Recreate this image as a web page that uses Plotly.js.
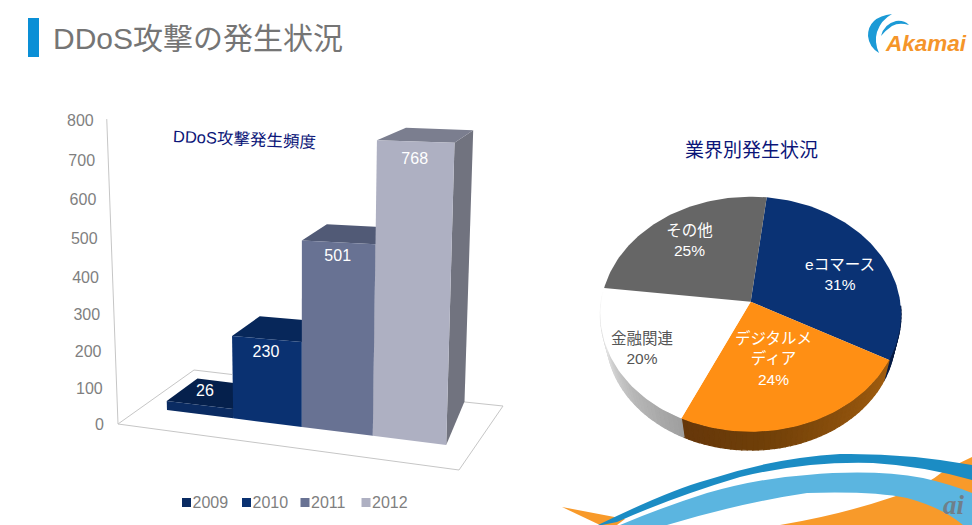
<!DOCTYPE html>
<html><head><meta charset="utf-8">
<script src="https://cdn.plot.ly/plotly-3.0.1.min.js"></script>
<style>html,body{margin:0;padding:0;background:#fff;overflow:hidden}#c{width:972px;height:525px}</style>
</head><body><div id="c"></div>
<script>
// ---- data ----
const years = ['2009','2010','2011','2012'];
const attacks = [26,230,501,768];
const yTicks = [0,100,200,300,400,500,600,700,800];
const pieLabels = ['eコマース','デジタルメ<br>ディア','金融関連','その他'];
const pieShares = [31,24,20,25];

// ---- styles ----
const SANS = '"Liberation Sans","Noto Sans CJK JP",sans-serif';
const frontCol = ['#0a2b62','#0a3171','#687293','#aeb0c2'];
const topCol   = ['#05204c','#07275a','#515a76','#7b7e8f'];
const sideCol  = ['#05204c','#07275a','#515a76','#71737f'];
const swatchCol= ['#0a2b62','#0a3171','#687293','#aeb0c2'];
const sliceCol = ['#0a3274','#ff8f14','#ffffff','#666666'];

// ---- projection of the tilted bar scene onto the page ----
const depthDx = [30.7,27.7,25,29,18.7];
const frontX = u => 167 + 65*u + 1.2*u*u;
const frontY = u => 410 + (frontX(u)-167)*0.1257;
const unitH  = (u,v) => 0.342 + 0.0142*u - 0.0008*u*u + 1e-5*v;
function front(u,v){ const X=frontX(u); return [X + 7.4e-5*v*(X-300), frontY(u) - v*unitH(u,v)]; }
function back(u,v){ const p=front(u,v); return [p[0]+depthDx[u], p[1] + (-23 + 0.0137*v)]; }
const tickY = v => 424 - 0.3575*v - 2.8e-5*v*v;
const tickX = v => 104 - 0.0128*v;

// ---- projection of the tilted pie ----
const PC = {x:750.7, y:301.7, A:149.5, B:116.2, p:0.1064, start:6.8, scale:0.96, drop:23.5};
function rim(deg, low){
  const t = deg*Math.PI/180, den = 1 + PC.p*Math.cos(t), s = low ? PC.scale : 1;
  return [PC.x + s*PC.A*Math.sin(t)/den, PC.y - s*PC.B*Math.cos(t)/den + (low?PC.drop:0)];
}
function mix(a,b,f){
  const h=c=>[1,3,5].map(i=>parseInt(c.substr(i,2),16));
  const A=h(a),B=h(b);
  return 'rgb('+A.map((x,i)=>Math.round(x+(B[i]-x)*f)).join(',')+')';
}
function poly(pts,color,line){
  return {type:'scatter',mode:'lines',x:pts.map(p=>p[0]),y:pts.map(p=>p[1]),fill:'toself',fillcolor:color,
          line:{width:line?1.2:0,color:color},hoverinfo:'skip',showlegend:false};
}

const traces = [];

// axis wall + floor outline
const wallTop = [tickX(800)+13, tickY(800)-1], origin=[118,tickY(0)];
traces.push({type:'scatter',mode:'lines',x:[wallTop[0],origin[0],459,503],y:[wallTop[1],origin[1],470,406],
  line:{color:'#c6c6c6',width:1},hoverinfo:'skip',showlegend:false});
traces.push({type:'scatter',mode:'lines',x:[origin[0],194,232],y:[origin[1],370,374.5],
  line:{color:'#c6c6c6',width:1},hoverinfo:'skip',showlegend:false});
traces.push({type:'scatter',mode:'lines',x:[460,503],y:[401.5,406],
  line:{color:'#c6c6c6',width:1},hoverinfo:'skip',showlegend:false});

// bars, back to front from the left
attacks.forEach((v,i)=>{
  const u0=i,u1=i+1;
  const fb0=[frontX(u0),frontY(u0)], fb1=[frontX(u1),frontY(u1)];
  const ft0=front(u0,v), ft1=front(u1,v), bt0=back(u0,v), bt1=back(u1,v);
  const bb1=[fb1[0]+18.3, fb1[1]-43.6];
  traces.push(poly([ft1,bt1,bb1,fb1,ft1],sideCol[i]));
  traces.push(poly([ft0,bt0,bt1,ft1,ft0],topCol[i]));
  traces.push(poly([fb0,ft0,ft1,fb1,fb0],frontCol[i]));
});

// tick labels
const textDrop = 2;
traces.push({type:'scatter',mode:'text',x:yTicks.map(tickX),y:yTicks.map(v=>tickY(v)+textDrop),text:yTicks.map(String),
  textposition:'middle left',textfont:{family:SANS,size:16,color:'#7f7f7f'},hoverinfo:'skip',showlegend:false});

// bar value labels
const labelNudge=[-13,14,15,19];
const labelShift=[5,-1,-1,-1];
traces.push({type:'scatter',mode:'text',
  x:attacks.map((v,i)=>(front(i,v)[0]+front(i+1,v)[0])/2+labelShift[i]),
  y:attacks.map((v,i)=>(front(i,v)[1]+front(i+1,v)[1])/2+labelNudge[i]),
  text:attacks.map(String),textposition:'middle center',
  textfont:{family:SANS,size:16,color:'#ffffff'},hoverinfo:'skip',showlegend:false});

// legend
const legX=[186.5,246.5,305,366];
traces.push({type:'scatter',mode:'markers',x:legX,y:years.map(()=>502.5),
  marker:{symbol:'square',size:9,color:swatchCol},hoverinfo:'skip',showlegend:false});
traces.push({type:'scatter',mode:'text',x:legX.map(x=>x+6),y:years.map(()=>503.5),text:years,textposition:'middle right',
  textfont:{family:SANS,size:16,color:'#7f7f7f'},hoverinfo:'skip',showlegend:false});

// pie: shares -> angles
const bounds=[PC.start];
pieShares.forEach(s=>bounds.push(bounds[bounds.length-1]+s*3.6));

// pie side wall, shaded by angle
function wall(a0,a1,stops){
  const n=Math.max(2,Math.ceil((a1-a0)/2));
  for(let k=0;k<n;k++){
    const a=a0+(a1-a0)*k/n, b=a0+(a1-a0)*(k+1)/n, f=(k+0.5)/n*(stops.length-1);
    const j=Math.min(stops.length-2,Math.floor(f));
    traces.push(poly([rim(a),rim(b),rim(b,true),rim(a,true),rim(a)],mix(stops[j],stops[j+1],f-j),true));
  }
}
wall(92,bounds[1],['#071c45','#071c45']);
wall(bounds[1],bounds[2],['#a05d10','#8a4f0c','#6f3f08','#66370a']);
wall(bounds[2],bounds[3],['#9f9f9f','#b8b8b8','#dcdcdc','#ffffff']);

// pie top
pieShares.forEach((s,i)=>{
  const a0=bounds[i],a1=bounds[i+1],pts=[[PC.x,PC.y]];
  for(let a=a0;a<a1;a+=1.5)pts.push(rim(a));
  pts.push(rim(a1));pts.push([PC.x,PC.y]);
  traces.push(poly(pts,sliceCol[i]));
});

// pie labels
const pieLabX=[840,773.5,642,689.5], pieLabY=[276.5,360.5,350.5,242.5];
const pieLabCol=['#ffffff','#ffffff','#555555','#ffffff'];
traces.push({type:'scatter',mode:'text',x:pieLabX,y:pieLabY,
  text:pieLabels.map((l,i)=>l+'<br>'+pieShares[i]+'%'),textposition:'middle center',
  textfont:{family:SANS,size:15.5,color:pieLabCol},hoverinfo:'skip',showlegend:false});

// decoration
const P=(path,fill)=>({type:'path',xref:'x',yref:'y',path,fillcolor:fill,line:{width:0},layer:'below'});
const shapes=[
  {type:'rect',xref:'x',yref:'y',x0:28,x1:39,y0:18,y1:57,fillcolor:'#0a8fd6',line:{width:0}},
  // swooshes
  P('M562 507 L625 519 L617 525 L600 525 Z','#f89a2a'),
  P('M780 525 Q840 515 893 497 Q925 487 945 470 L972 457 L972 525 Z','#f89a2a'),
  P('M598 525 Q670 490 707 480 Q773 458 840 454 Q907 453 972 465 L972 480 Q923 466 873 463 Q807 461 740 477 Q673 497 617 522 L602 525 Z','#1b8cc4'),
  P('M620 525 Q660 508 707 493 Q760 478 807 475 Q873 469 923 478 Q950 484 972 493 L972 525 L963 525 Q943 508 907 498 Q873 491 807 493 Q740 503 667 525 Z','#5bb5e0'),
  // logo swirl
  P('M892 14 Q868 17 868 36 Q869 47 879 53 Q874 42 877 32 Q881 20 892 14 Z','#1b9ad6'),
  P('M881 36 Q884 24 896 21 Q904 20 909 25 Q899 22 892 26 Q886 30 881 36 Z','#1b9ad6')
];

const annotations=[
  {x:51,y:38,xref:'x',yref:'y',xanchor:'left',yanchor:'middle',showarrow:false,text:'DDoS攻撃の発生状況',
    font:{family:SANS,size:30,color:'#757575'}},
  {x:244.5,y:139,xref:'x',yref:'y',xanchor:'center',yanchor:'middle',showarrow:false,text:'DDoS攻撃発生頻度',textangle:2.5,
    font:{family:SANS,size:16.5,color:'#0b1578'}},
  {x:751,y:150,xref:'x',yref:'y',xanchor:'center',yanchor:'middle',showarrow:false,text:'業界別発生状況',
    font:{family:SANS,size:19,color:'#0b1578'}},
  {x:969,y:43,xref:'x',yref:'y',xanchor:'right',yanchor:'middle',showarrow:false,text:'<b><i>Akamai</i></b>',
    font:{family:SANS,size:22.5,color:'#f5952a'}},
  {x:954,y:505,xref:'x',yref:'y',xanchor:'center',yanchor:'middle',showarrow:false,text:'<b><i>ai</i></b>',
    font:{family:'"Liberation Serif",serif',size:27,color:'#6f7f8a'}}
];

Plotly.newPlot('c',traces,{
  width:972,height:525,margin:{l:0,r:0,t:0,b:0},paper_bgcolor:'#fff',plot_bgcolor:'#fff',showlegend:false,hovermode:false,
  xaxis:{range:[0,972],visible:false,fixedrange:true},
  yaxis:{range:[525,0],visible:false,fixedrange:true},
  shapes,annotations
},{displayModeBar:false,staticPlot:true});
</script></body></html>
